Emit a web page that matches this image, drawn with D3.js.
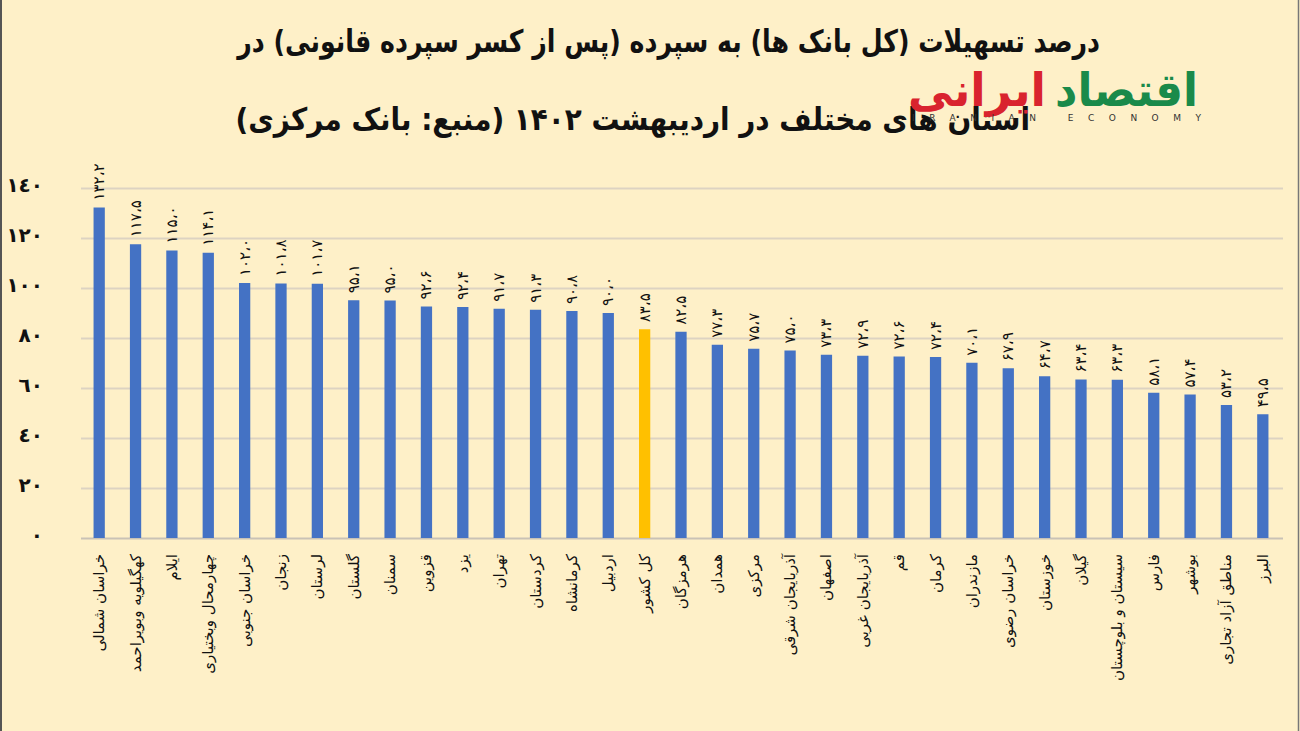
<!DOCTYPE html>
<html>
<head>
<meta charset="utf-8">
<script src="https://cdn.jsdelivr.net/npm/d3@7"></script>
<style>
  body { margin: 0; background: #fef0c8; }
  svg { display: block; }
</style>
</head>
<body>
<div class="canvas"></div>
<script>
const categories = [
  'خراسان شمالی', 'کهگیلویه وبویراحمد', 'ایلام', 'چهارمحال وبختیاری', 'خراسان جنوبی',
  'زنجان', 'لرستان', 'گلستان', 'سمنان', 'قزوین', 'یزد', 'تهران', 'کردستان', 'کرمانشاه',
  'اردبیل', 'کل کشور', 'هرمزگان', 'همدان', 'مرکزی', 'آذربایجان شرقی', 'اصفهان',
  'آذربایجان غربی', 'قم', 'کرمان', 'مازندران', 'خراسان رضوی', 'خوزستان', 'گیلان',
  'سیستان و بلوچستان', 'فارس', 'بوشهر', 'مناطق آزاد تجاری', 'البرز'
];
const values = [
  132.2, 117.5, 115.0, 114.1, 102.0, 101.8, 101.7, 95.1, 95.0, 92.6, 92.4, 91.7, 91.3,
  90.8, 90.0, 83.5, 82.5, 77.3, 75.7, 75.0, 73.3, 72.9, 72.6, 72.4, 70.1, 67.9, 64.7,
  63.4, 63.3, 58.1, 57.4, 53.2, 49.5
];
const highlight = 'کل کشور';
const yTicks = [0, 20, 40, 60, 80, 100, 120, 140];
const titleLines = [
  'درصد تسهیلات (کل بانک ها) به سپرده  (پس از کسر سپرده قانونی) در',
  'استان های مختلف در اردیبهشت ۱۴۰۲ (منبع: بانک مرکزی)'
];

const data = categories.map((name, i) => ({ name, value: values[i] }));

const dims = { width: 1300, height: 731 };
const plot = { left: 81, right: 1281, top: 188, bottom: 538 };

const faDigits = '۰۱۲۳۴۵۶۷۸۹';
const arDigits = '٠١٢٣٤٥٦٧٨٩';
const toFa = (s) => String(s).replace(/\d/g, (c) => faDigits[c]).replace('.', '،');
const toAr = (s) => String(s).replace(/\d/g, (c) => arDigits[c]);

const svg = d3
  .select('.canvas')
  .append('svg')
  .attr('width', dims.width)
  .attr('height', dims.height);

svg
  .append('rect')
  .attr('width', dims.width)
  .attr('height', dims.height)
  .attr('fill', '#fef0c8');

// frame lines left / right
svg.append('line').attr('x1', 1).attr('x2', 1).attr('y1', 0).attr('y2', dims.height)
  .attr('stroke', '#555').attr('stroke-width', 2);
svg.append('line').attr('x1', 1298.5).attr('x2', 1298.5).attr('y1', 0).attr('y2', dims.height)
  .attr('stroke', '#777').attr('stroke-width', 1.5);

const x = d3
  .scaleBand()
  .domain(categories)
  .range([plot.left, plot.right])
  .paddingInner(0.69)
  .paddingOuter(0.345);

const y = d3.scaleLinear().domain([0, 140]).range([plot.bottom, plot.top]);

// y axis + grid
const yAxis = d3
  .axisLeft(y)
  .tickValues(yTicks)
  .tickSize(-(1283 - plot.left))
  .tickPadding(38)
  .tickFormat((d) => toAr(d));

const yG = svg
  .append('g')
  .attr('transform', `translate(${plot.left}, 0)`)
  .call(yAxis);

yG.select('.domain').remove();
yG.selectAll('.tick line')
  .attr('stroke', (d) => (d === 0 ? '#c9c2b6' : '#ddd3c2'))
  .attr('stroke-width', 2);
yG.selectAll('.tick text')
  .attr('font-family', 'DejaVu Sans, sans-serif')
  .attr('font-weight', 'bold')
  .attr('font-size', 20)
  .attr('fill', '#111')
  .attr('dy', '0.15em');

// bars
svg
  .append('g')
  .selectAll('rect')
  .data(data)
  .enter()
  .append('rect')
  .attr('x', (d) => x(d.name))
  .attr('y', (d) => y(d.value))
  .attr('width', x.bandwidth())
  .attr('height', (d) => y(0) - y(d.value))
  .attr('fill', (d) => (d.name === highlight ? '#ffc000' : '#4472c4'));

// value labels
svg
  .append('g')
  .selectAll('text')
  .data(data)
  .enter()
  .append('text')
  .attr('transform', (d) =>
    `translate(${x(d.name) + x.bandwidth() / 2 + 5}, ${y(d.value) - 7}) rotate(-90)`)
  .attr('font-family', 'DejaVu Sans, sans-serif')
  .attr('font-size', 15)
  .attr('fill', '#111')
  .attr('text-anchor', 'start')
  .text((d) => toFa(d.value.toFixed(1)));

// category axis
const xAxis = d3.axisBottom(x).tickSize(0).tickPadding(0);
const xG = svg
  .append('g')
  .attr('transform', `translate(0, ${plot.bottom})`)
  .call(xAxis);

xG.select('.domain').remove();
xG.selectAll('.tick text')
  .attr('font-family', 'DejaVu Sans, sans-serif')
  .attr('font-size', 15)
  .attr('fill', '#111')
  .attr('text-anchor', 'end')
  .attr('y', 0)
  .attr('dy', 0)
  .attr('transform', 'translate(5, 16) rotate(-90)');

// fits a text horizontally between two x edges (right edge anchored)
const fitRight = (sel, right, width, yPos) => {
  const w = sel.node().getComputedTextLength();
  sel.attr('text-anchor', 'end')
    .attr('x', 0)
    .attr('y', 0)
    .attr('transform', `translate(${right}, ${yPos}) scale(${width / w}, 1)`);
};

// title
const titleG = svg.append('g');
const titleBox = [
  { right: 1100, width: 863, y: 52 },
  { right: 1030, width: 795, y: 130 }
];
titleLines.forEach((line, i) => {
  const t = titleG
    .append('text')
    .attr('font-family', 'DejaVu Sans, sans-serif')
    .attr('font-weight', 'bold')
    .attr('font-size', 31)
    .attr('fill', '#111')
    .style('direction', 'rtl')
    .style('unicode-bidi', 'embed')
    .text(line);
  const w = t.node().getComputedTextLength();
  t.attr('text-anchor', 'start')
    .attr('transform', `translate(${titleBox[i].right}, ${titleBox[i].y}) scale(${titleBox[i].width / w}, 1)`);
});

// logo
const logo = svg.append('g');
const green = logo
  .append('text')
  .attr('font-family', 'DejaVu Sans, sans-serif')
  .attr('font-weight', 'bold')
  .attr('font-size', 46)
  .attr('fill', '#1a8a4a')
  .text('اقتصاد');
fitRight(green, 1198, 143, 106);
const red = logo
  .append('text')
  .attr('font-family', 'DejaVu Sans, sans-serif')
  .attr('font-weight', 'bold')
  .attr('font-size', 46)
  .attr('fill', '#d9232e')
  .text('ایرانی');
fitRight(red, 1046, 138, 106);
logo
  .append('text')
  .attr('x', 912)
  .attr('y', 121)
  .attr('font-family', 'DejaVu Sans, sans-serif')
  .attr('font-size', 9)
  .attr('letter-spacing', 14.5)
  .attr('fill', '#333')
  .text('IRANIAN ECONOMY');
</script>
</body>
</html>
